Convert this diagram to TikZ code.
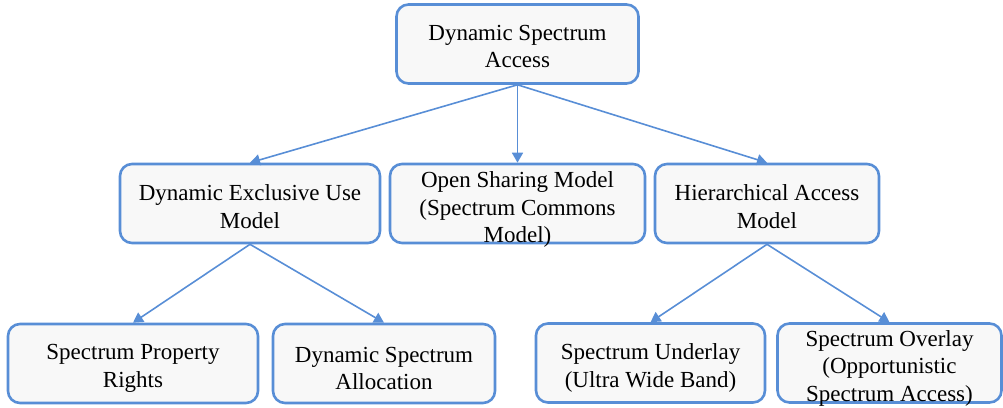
\documentclass[tikz,border=0pt]{standalone}
\usepackage{fontspec}
\setmainfont{Liberation Serif}
\usetikzlibrary{arrows.meta}
\definecolor{edgeblue}{RGB}{88,142,214}
\definecolor{boxfill}{RGB}{248,248,248}
\begin{document}
\begin{tikzpicture}[x=1pt,y=-1pt,
  box/.style={draw=edgeblue, line width=2.6pt, fill=boxfill, rounded corners=12pt,
    inner sep=0pt, minimum height=79pt},
  lbl/.style={align=center, inner sep=0pt, font=\fontsize{23}{27.5}\selectfont},
  link/.style={draw=edgeblue, line width=1.6pt, -{Triangle[length=10pt,width=11pt]}}]
\useasboundingbox (0,0) rectangle (1003,407);
% root
\node[box, minimum width=242pt] (dsa) at (517.5,44) {};
\node[lbl] (dsa-t) at ([yshift=-2.5pt]dsa.center) {Dynamic Spectrum\\Access};
% second level
\node[box, minimum width=260pt] (deu) at (250,203.5) {};
\node[lbl] (deu-t) at ([yshift=-3pt]deu.center) {Dynamic Exclusive Use\\Model};
\node[box, minimum width=255pt] (osm) at (517.5,203.5) {};
\node[lbl] (osm-t) at ([yshift=-6pt]osm.center) {Open Sharing Model\\(Spectrum Commons\\Model)};
\node[box, minimum width=224pt] (ham) at (767,203.5) {};
\node[lbl] (ham-t) at ([yshift=-3pt]ham.center) {Hierarchical Access\\Model};
% third level
\node[box, minimum width=250pt] (spr) at (133,363.5) {};
\node[lbl] (spr-t) at ([yshift=-5pt]spr.center) {Spectrum Property\\Rights};
\node[box, minimum width=222pt] (dsal) at (384,363.5) {};
\node[lbl] (dsal-t) at ([yshift=-5pt]dsal.center) {Dynamic Spectrum\\Allocation};
\node[box, minimum width=229pt] (sul) at (650.5,363) {};
\node[lbl] (sul-t) at ([yshift=-5pt]sul.center) {Spectrum Underlay\\(Ultra Wide Band)};
\node[box, minimum width=224pt] (sol) at (889.5,363) {};
\node[lbl] (sol-t) at ([yshift=-5pt]sol.center) {Spectrum Overlay\\(Opportunistic\\Spectrum Access)};
% connectors
\draw[link] (dsa.south) -- (deu.north);
\draw[link] (dsa.south) -- (osm.north);
\draw[link] (dsa.south) -- (ham.north);
\draw[link] (deu.south) -- (spr.north);
\draw[link] (deu.south) -- (dsal.north);
\draw[link] (ham.south) -- (sul.north);
\draw[link] (ham.south) -- (sol.north);
\end{tikzpicture}
\end{document}
